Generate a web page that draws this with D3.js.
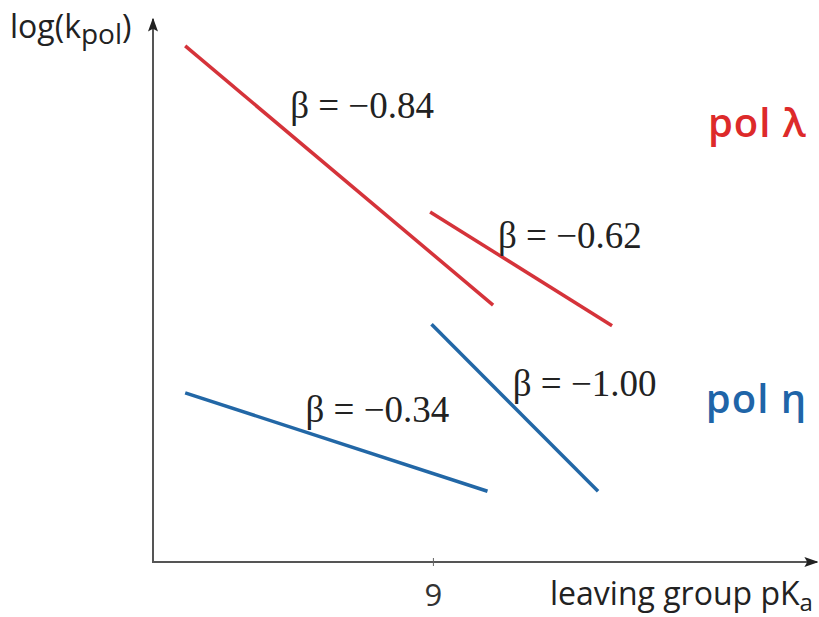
<!DOCTYPE html>
<html><head><meta charset="utf-8">
<script src="https://cdn.jsdelivr.net/npm/d3@7"></script>
<style>body{margin:0;background:#fff}svg{display:block}</style>
</head><body>
<script>
// Data (arbitrary units: x = leaving group pKa, y = log(kpol))
const seriesNames = ["pol λ", "pol η"];
const segments = [
  {series: "pol λ", beta: "β = −0.84", x: [7.23, 9.43], y: [9.70, 4.83]},
  {series: "pol λ", beta: "β = −0.62", x: [8.98, 10.28], y: [6.58, 4.44]},
  {series: "pol η", beta: "β = −0.34", x: [7.23, 9.39], y: [3.18, 1.33]},
  {series: "pol η", beta: "β = −1.00", x: [8.99, 10.18], y: [4.47, 1.33]}
];
const labelPos = [[7.98, 8.35], [9.465, 5.90], [8.09, 2.63], [9.57, 3.12]];
const seriesLabelPos = [[10.965, 7.99], [10.95, 2.80]];
const xTicks = [9];
const colors = {"pol λ": "#d5333a", "pol η": "#2267a6"};
const seriesTextColors = {"pol λ": "#dd2a2a", "pol η": "#1f65a8"};

const W = 819, H = 617;
const svg = d3.select("body").append("svg").attr("width", W).attr("height", H);
const x = d3.scaleLinear().domain([7, 11.68]).range([153, 808]);
const y = d3.scaleLinear().domain([0, 10]).range([562, 30]);

// arrow marker
const defs = svg.append("defs");
defs.append("marker").attr("id", "arr").attr("viewBox", "0 0 10 10").attr("refX", 9).attr("refY", 5)
  .attr("markerWidth", 14).attr("markerHeight", 10).attr("markerUnits", "userSpaceOnUse").attr("orient", "auto")
  .attr("preserveAspectRatio", "none")
  .append("path").attr("d", "M0,0 L10,5 L0,10 L2,5 z").attr("fill", "#222");

// axes
svg.append("line").attr("x1", x(7)).attr("y1", y(0)).attr("x2", x(7)).attr("y2", 19)
  .attr("stroke", "#555").attr("stroke-width", 2).attr("marker-end", "url(#arr)");
svg.append("line").attr("x1", x(7) - 1).attr("y1", y(0)).attr("x2", 817).attr("y2", y(0))
  .attr("stroke", "#555").attr("stroke-width", 2).attr("marker-end", "url(#arr)");

const xAxis = d3.axisBottom(x).tickValues(xTicks).tickSize(5).tickFormat(d3.format("d"));
const gx = svg.append("g").attr("transform", `translate(0,${y(0)})`).call(xAxis);
gx.select(".domain").remove();
gx.selectAll(".tick line").attr("stroke", "#666").attr("y1", -4).attr("y2", 4);
gx.selectAll(".tick text").style("font-family", "Open Sans, sans-serif").style("font-size", "31px")
  .attr("fill", "#333").attr("dy", null).attr("y", 44);

// segments
svg.selectAll("line.seg").data(segments).join("line").attr("class", "seg")
  .attr("x1", d => x(d.x[0])).attr("y1", d => y(d.y[0]))
  .attr("x2", d => x(d.x[1])).attr("y2", d => y(d.y[1]))
  .attr("stroke", d => colors[d.series]).attr("stroke-width", 3.5);

// beta labels
svg.selectAll("text.beta").data(segments).join("text").attr("class", "beta")
  .attr("x", (d, i) => x(labelPos[i][0])).attr("y", (d, i) => y(labelPos[i][1]))
  .attr("font-family", "Liberation Serif, Times New Roman, serif").attr("font-size", 37)
  .attr("fill", "#222").text(d => d.beta);

// series labels
svg.selectAll("text.ser").data(seriesNames).join("text").attr("class", "ser")
  .attr("x", (d, i) => x(seriesLabelPos[i][0])).attr("y", (d, i) => y(seriesLabelPos[i][1]))
  .attr("font-family", "Open Sans, sans-serif").attr("font-weight", 600).attr("font-size", 40)
  .attr("letter-spacing", 1)
  .attr("fill", d => seriesTextColors[d]).text(d => d);

// axis titles
const yt = svg.append("text").attr("x", 10).attr("y", 38).attr("font-family", "Open Sans, sans-serif")
  .attr("font-size", 32).attr("fill", "#222");
yt.append("tspan").text("log(k");
yt.append("tspan").attr("font-size", 28).attr("dy", 6).text("pol");
yt.append("tspan").attr("dy", -6).text(")");

const xt = svg.append("text").attr("x", 550).attr("y", 605).attr("font-family", "Open Sans, sans-serif")
  .attr("font-size", 32).attr("fill", "#222");
xt.append("tspan").text("leaving group pK");
xt.append("tspan").attr("font-size", 24).attr("dy", 6).text("a");
</script>
</body></html>
